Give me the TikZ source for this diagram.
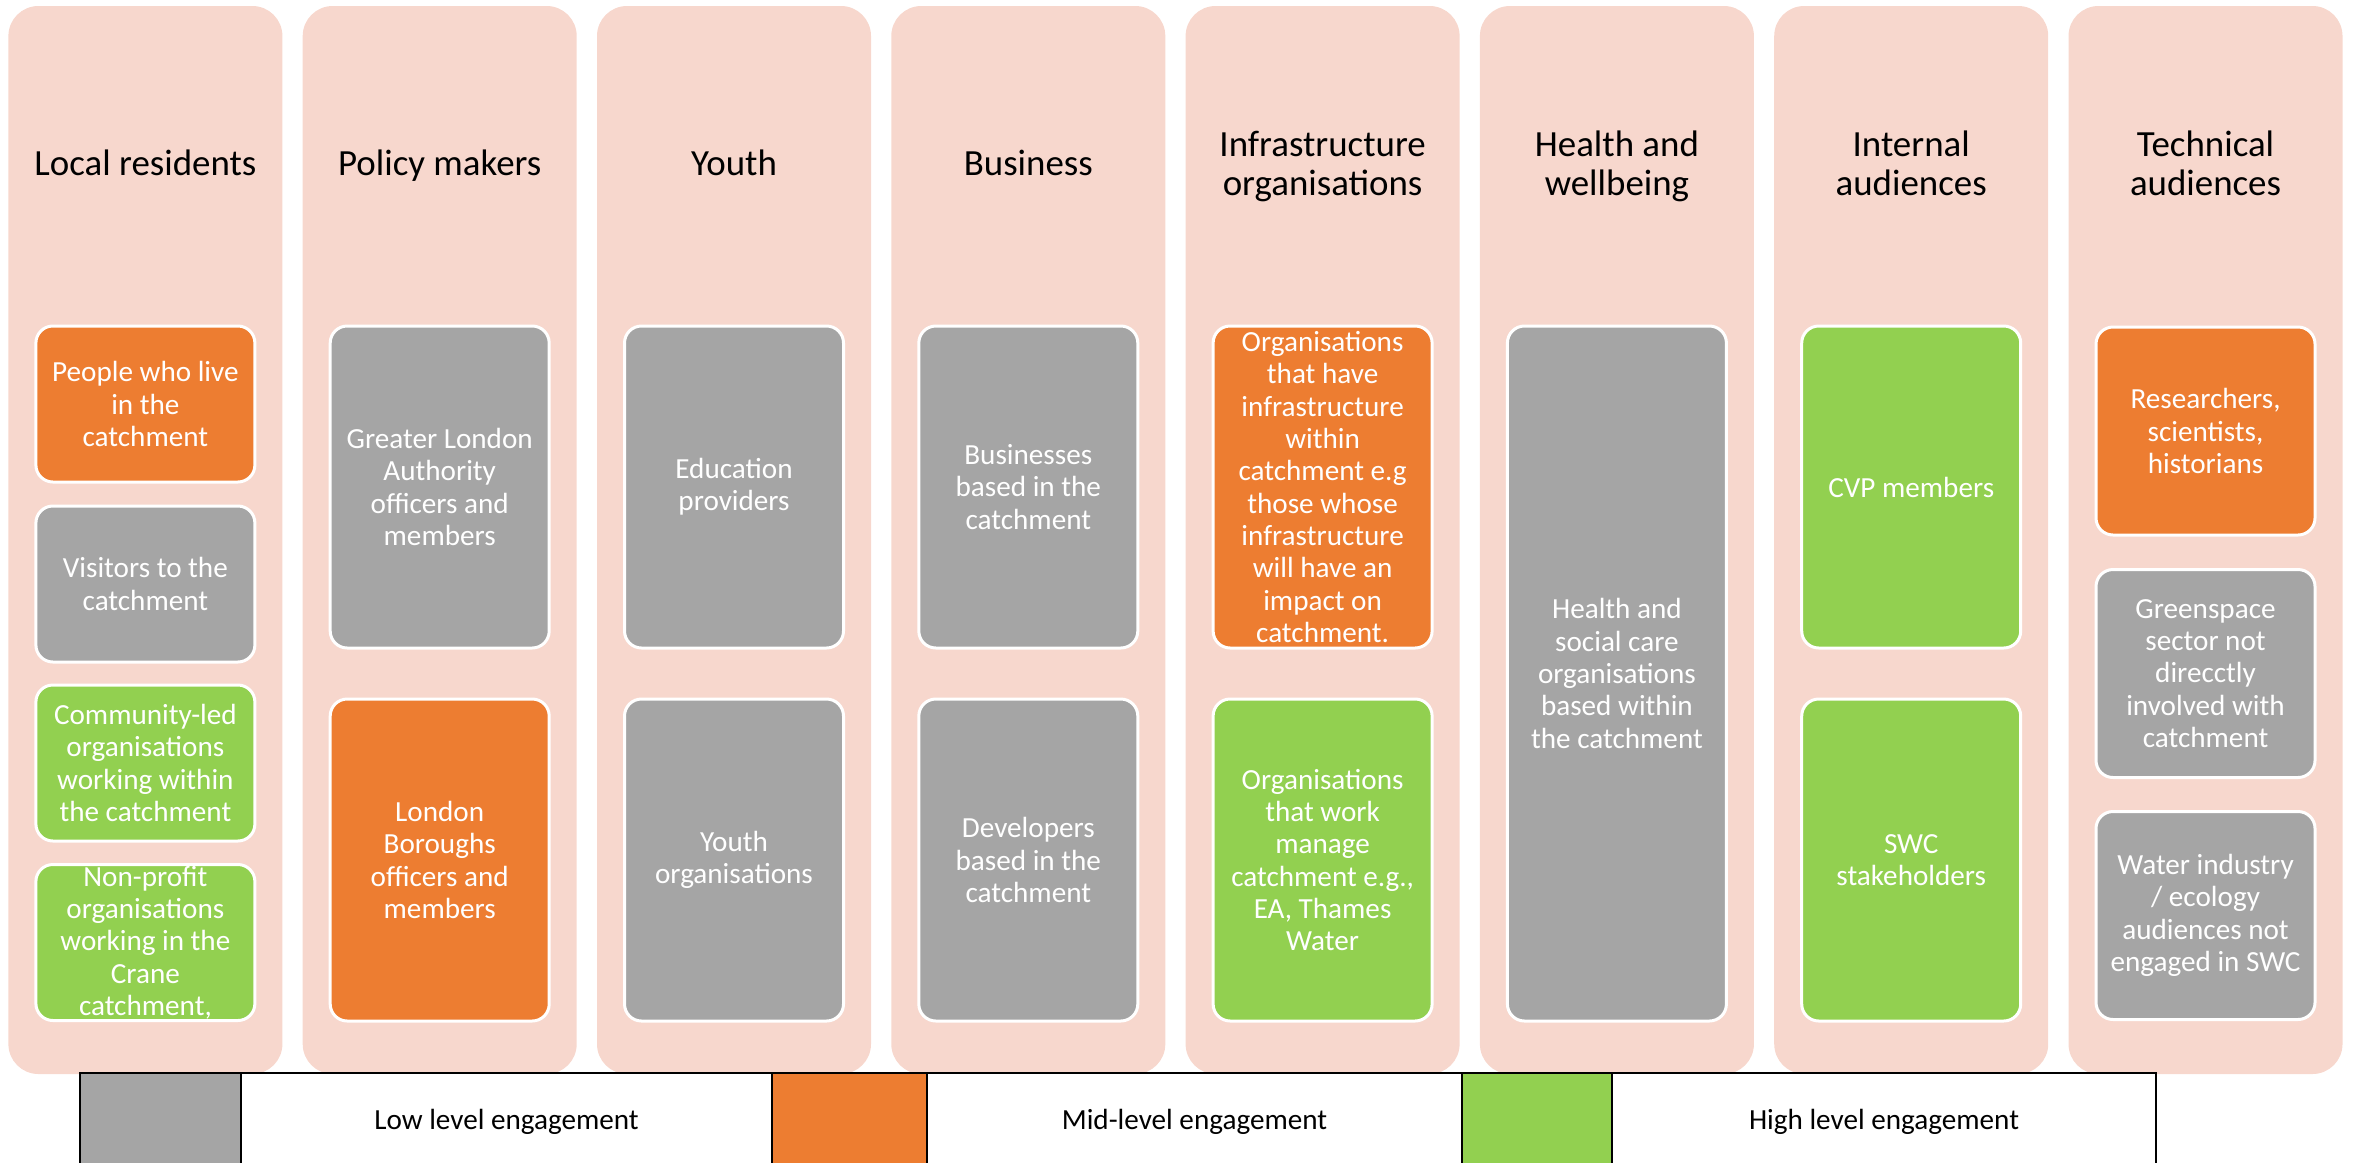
\documentclass[tikz,border=0pt]{standalone}
\usepackage{fontspec}
\setmainfont{Carlito}
\usetikzlibrary{positioning}

\definecolor{colpink}{HTML}{F7D7CD}
\definecolor{lowgray}{HTML}{A5A5A5}
\definecolor{midorange}{HTML}{ED7D31}
\definecolor{highgreen}{HTML}{92D050}

\begin{document}
\begin{tikzpicture}[x=0.1mm, y=-0.1mm,
  column/.style={fill=colpink, rounded corners=3mm},
  heading/.style={font=\fontsize{10.5}{11.1}\selectfont, align=center, text depth=0pt},
  audbox/.style={draw=white, line width=0.3mm, rounded corners=1.7mm, text=white,
    minimum width=21.9mm, inner sep=0pt, outer sep=0pt, align=center,
    font=\fontsize{8.3}{9.2}\selectfont},
  lowbox/.style={audbox, fill=lowgray},
  midbox/.style={audbox, fill=midorange},
  highbox/.style={audbox, fill=highgreen},
  keycell/.style={draw=black, line width=0.22mm, minimum height=9.8mm,
    inner sep=0pt, outer sep=0pt, font=\fontsize{8.3}{9.2}\selectfont}]
\useasboundingbox (0,0) rectangle (2354,1162);
\clip (0,0) rectangle (2354,1162);

% Column backgrounds
\foreach \i in {0,...,7} {
  \pgfmathsetmacro{\cx}{145.4+294.3*\i}
  \fill[column] (\cx-137,6) rectangle (\cx+137,1074);
}

% Local residents
\node[heading] (locres) at (145.4,163) {Local residents};
\node[midbox, minimum height=15.6mm] (live) at (145.4,404) {People who live\\in the\\catchment};
\node[lowbox, minimum height=15.6mm] (visit) at (145.4,584) {Visitors to the\\catchment};
\node[highbox, minimum height=15.6mm] (commled) at (145.4,763) {Community-led\\organisations\\working within\\the catchment};
\node[highbox, minimum height=15.6mm] (nonprofit) at (145.4,942.5) {Non-profit\\organisations\\working in the\\Crane\\catchment,};

% Policy makers
\node[heading] (policy) at (439.7,163) {Policy makers};
\node[lowbox, minimum height=32.2mm] (gla) at (439.7,487) {Greater London\\Authority\\officers and\\members};
\node[midbox, minimum height=32.2mm] (boroughs) at (439.7,860) {London\\Boroughs\\officers and\\members};

% Youth
\node[heading] (youth) at (734.0,163) {Youth};
\node[lowbox, minimum height=32.2mm] (edu) at (734.0,487) {Education\\providers};
\node[lowbox, minimum height=32.2mm] (youthorg) at (734.0,860) {Youth\\organisations};

% Business
\node[heading] (business) at (1028.3,163) {Business};
\node[lowbox, minimum height=32.2mm] (firms) at (1028.3,487) {Businesses\\based in the\\catchment};
\node[lowbox, minimum height=32.2mm] (devs) at (1028.3,860) {Developers\\based in the\\catchment};

% Infrastructure organisations
\node[heading] (infra) at (1322.6,163) {Infrastructure\\organisations};
\node[midbox, minimum height=32.2mm] (infrahave) at (1322.6,487) {Organisations\\that have\\infrastructure\\within\\catchment e.g\\those whose\\infrastructure\\will have an\\impact on\\catchment.};
\node[highbox, minimum height=32.2mm] (infrawork) at (1322.6,860) {Organisations\\that work\\manage\\catchment e.g.,\\EA, Thames\\Water};

% Health and wellbeing
\node[heading] (health) at (1616.9,163) {Health and\\wellbeing};
\node[lowbox, minimum height=69.5mm] (care) at (1616.9,673.5) {Health and\\social care\\organisations\\based within\\the catchment};

% Internal audiences
\node[heading] (internal) at (1911.2,163) {Internal\\audiences};
\node[highbox, minimum height=32.2mm] (cvp) at (1911.2,487) {CVP members};
\node[highbox, minimum height=32.2mm] (swc) at (1911.2,860) {SWC\\stakeholders};

% Technical audiences
\node[heading] (technical) at (2205.5,163) {Technical\\audiences};
\node[midbox, minimum height=20.8mm] (research) at (2205.5,431) {Researchers,\\scientists,\\historians};
\node[lowbox, minimum height=20.8mm] (green) at (2205.5,673.5) {Greenspace\\sector not\\direcctly\\involved with\\catchment};
\node[lowbox, minimum height=20.8mm] (water) at (2205.5,915.5) {Water industry\\/ ecology\\audiences not\\engaged in SWC};

% Key
\node[keycell, fill=lowgray, minimum width=16.1mm] (lowkey) at (160.5,1122) {};
\node[keycell, fill=white, minimum width=53.1mm, right=0pt of lowkey] (lowtxt) {Low level engagement};
\node[keycell, fill=midorange, minimum width=15.5mm, right=0pt of lowtxt] (midkey) {};
\node[keycell, fill=white, minimum width=53.5mm, right=0pt of midkey] (midtxt) {Mid-level engagement};
\node[keycell, fill=highgreen, minimum width=15.0mm, right=0pt of midtxt] (highkey) {};
\node[keycell, fill=white, minimum width=54.4mm, right=0pt of highkey] (hightxt) {High level engagement};
\end{tikzpicture}
\end{document}
